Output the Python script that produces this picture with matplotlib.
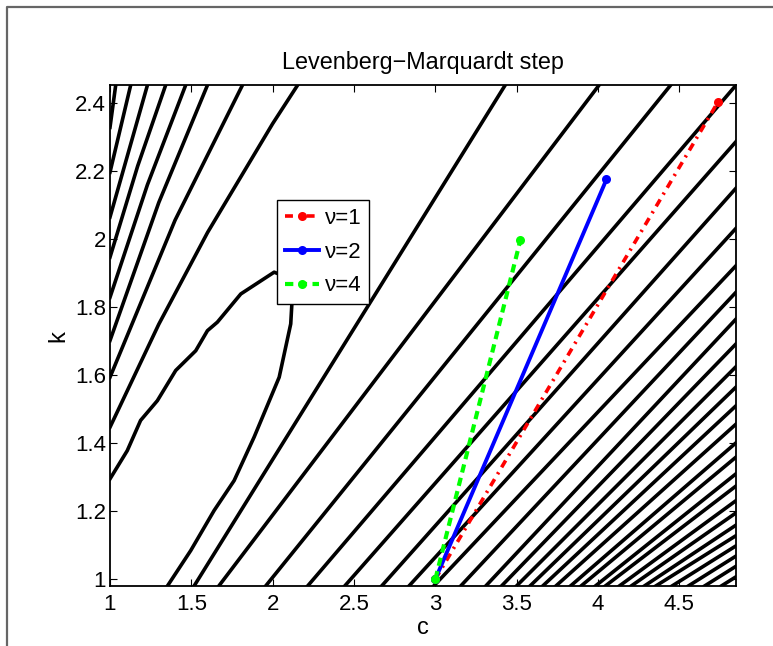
import numpy as np
import matplotlib
matplotlib.use("Agg")
import matplotlib.pyplot as plt
from matplotlib.lines import Line2D

plt.rcParams['font.family'] = ['Liberation Sans', 'DejaVu Sans']

# axis range
c_lim = (1.0, 4.848)
k_lim = (0.98, 2.453)

# innermost (U shaped) contour, left edge -> tip -> bottom edge
u_c = [1.0, 1.106, 1.188, 1.291, 1.404, 1.527, 1.599, 1.66, 1.804, 2.009, 2.08, 2.118,
       2.111, 2.04, 1.886, 1.763, 1.64, 1.496, 1.353]
u_k = [1.295, 1.378, 1.467, 1.525, 1.614, 1.672, 1.731, 1.756, 1.839, 1.903, 1.89, 1.81,
       1.751, 1.594, 1.418, 1.29, 1.202, 1.084, 0.98]

# left branches, left edge -> top edge
left_lines = [
    [(1.0, 1.447), (1.3, 1.75), (1.6, 2.02), (2.0, 2.34), (2.153, 2.453)],
    [(1.0, 1.594), (1.4, 2.056), (1.814, 2.453)],
    [(1.0, 1.702), (1.3, 2.108), (1.599, 2.453)],
    [(1.0, 1.829), (1.23, 2.16), (1.465, 2.453)],
    [(1.0, 1.947), (1.17, 2.215), (1.342, 2.453)],
    [(1.0, 2.065), (1.23, 2.453)],
    [(1.0, 2.197), (1.127, 2.453)],
    [(1.0, 2.329), (1.035, 2.453)],
]

# right branches reaching the top edge: (c at bottom, c at top)
top_bottom_c = [1.517, 1.669, 1.957, 2.215]
top_top_c = [3.429, 4.006, 4.446, 4.848]

# lower right fan: (c at bottom, k at right edge)
fan_bottom_c = [2.443, 2.67, 2.838, 2.99, 3.156, 3.31, 3.407, 3.499, 3.582, 3.66, 3.741,
                3.831, 3.896, 3.984, 4.045, 4.131, 4.204, 4.285, 4.355, 4.455, 4.555,
                4.655, 4.758]
fan_right_k = [2.287, 2.15, 2.032, 1.922, 1.844, 1.765, 1.692, 1.625, 1.565, 1.51, 1.456,
               1.401, 1.359, 1.31, 1.274, 1.231, 1.195, 1.159, 1.128, 1.098, 1.068,
               1.038, 1.007]

# LM steps from the start point
start = (3.0, 1.0)
step_nu = ['1', '2', '4']
step_end_c = [4.739, 4.052, 3.523]
step_end_k = [2.405, 2.176, 1.998]

fig = plt.figure(figsize=(7.73, 6.46), dpi=100)
ax = fig.add_axes([0.1423, 0.0929, 0.8098, 0.7752])

lw = 2.6
ax.plot(u_c, u_k, color='k', lw=lw)
for line in left_lines:
    ax.plot([p[0] for p in line], [p[1] for p in line], color='k', lw=lw)
for c0, c1 in zip(top_bottom_c, top_top_c):
    ax.plot([c0, c1], [k_lim[0], k_lim[1]], color='k', lw=lw)
for c0, k1 in zip(fan_bottom_c, fan_right_k):
    ax.plot([c0, c_lim[1]], [k_lim[0], k1], color='k', lw=lw)

styles = [
    dict(color='r', ls=(0, (2.2, 1.6, 0.6, 1.6)), lw=2.6),
    dict(color='b', ls='-', lw=2.8),
    dict(color=(0, 1, 0), ls=(0, (2.0, 1.3)), lw=3.0),
]
handles = []
for nu, ce, ke, st in zip(step_nu, step_end_c, step_end_k, styles):
    h, = ax.plot([start[0], ce], [start[1], ke], marker='o', ms=6.5, mew=0,
                 label='\u03bd=' + nu, **st)
    handles.append(h)

ax.set_xlim(*c_lim)
ax.set_ylim(*k_lim)
ax.set_xticks([1, 1.5, 2, 2.5, 3, 3.5, 4, 4.5])
ax.set_xticklabels(['1', '1.5', '2', '2.5', '3', '3.5', '4', '4.5'])
ax.set_yticks([1, 1.2, 1.4, 1.6, 1.8, 2, 2.2, 2.4])
ax.set_yticklabels(['1', '1.2', '1.4', '1.6', '1.8', '2', '2.2', '2.4'])
ax.tick_params(direction='in', length=5, width=0.8, labelsize=16, top=True, right=True)
ax.tick_params(axis='x', pad=6)
ax.tick_params(axis='y', pad=3)
for s in ax.spines.values():
    s.set_linewidth(1.3)
ax.set_xlabel('c', fontsize=17, labelpad=1)
ax.set_ylabel('k', fontsize=17, labelpad=4)
ax.set_title('Levenberg\u2212Marquardt step', fontsize=16.8, pad=12)

leg = ax.legend(handles=handles, loc='upper left', bbox_to_anchor=(0.267, 0.77),
                fontsize=16, frameon=True, fancybox=False, edgecolor='k',
                framealpha=1, handlelength=1.55, handletextpad=0.25,
                labelspacing=0.57, borderpad=0.35, borderaxespad=0)
leg.get_frame().set_linewidth(1.0)

# grey frame of the original window
fig.add_artist(Line2D([7 / 773, 7 / 773, 1.0], [0.0, 1 - 7 / 646, 1 - 7 / 646],
                      color='0.4', lw=1.6))

fig.savefig('out.png', dpi=100)
